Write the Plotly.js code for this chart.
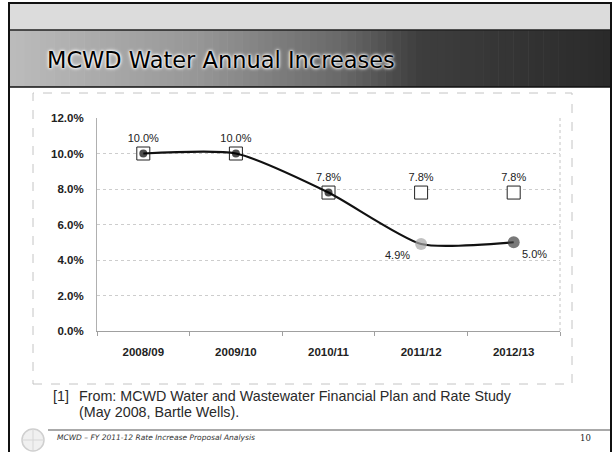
<!DOCTYPE html>
<html>
<head>
<meta charset="utf-8">
<script src="https://cdn.plot.ly/plotly-3.0.1.min.js"></script>
<style>
html,body{margin:0;padding:0;background:#fff;}
#chart{width:614px;height:452px;}
</style>
</head>
<body>
<div id="chart"></div>
<script>
// ---- data ----
var categories = ["2008/09", "2009/10", "2010/11", "2011/12", "2012/13"];
var plannedValues = [10.0, 10.0, 7.8, 7.8, 7.8];
var plannedLabels = ["10.0%", "10.0%", "7.8%", "7.8%", "7.8%"];
var actualValues = [10.0, 10.0, 7.8, 4.9, 5.0];
var actualLabels = ["", "", "", "4.9%", "5.0%"];
var yTickValues = [0, 2, 4, 6, 8, 10, 12];
var yTickLabels = ["0.0%", "2.0%", "4.0%", "6.0%", "8.0%", "10.0%", "12.0%"];
var slideTitle = "MCWD Water Annual Increases";
var footnoteMark = "[1]";
var footnoteLine1 = "From: MCWD Water and Wastewater Financial Plan and Rate Study";
var footnoteLine2 = "(May 2008, Bartle Wells).";
var footerText = "MCWD \u2013 FY 2011-12 Rate Increase Proposal Analysis";
var pageNumber = "10";

// ---- layout helpers (pixel -> paper) ----
var W = 614, H = 452;
function px(x){ return x / W; }
function py(y){ return 1 - y / H; }

var shapes = [];
// top light band
shapes.push({type:'rect', xref:'paper', yref:'paper', x0:px(9), x1:px(611), y0:py(3), y1:py(30),
  fillcolor:'#dcdcdc', line:{width:0}, layer:'below'});
// dark gradient band made of strips (decoration)
var bandStops = [[9, 188], [200, 150], [340, 105], [420, 62], [611, 42]];
function bandGrey(x){
  for (var k = 0; k < bandStops.length - 1; k++) {
    var a = bandStops[k], b = bandStops[k + 1];
    if (x <= b[0]) return a[1] + (b[1] - a[1]) * (x - a[0]) / (b[0] - a[0]);
  }
  return bandStops[bandStops.length - 1][1];
}
var nStrips = 80;
for (var i = 0; i < nStrips; i++) {
  var x0 = 9 + (611 - 9) * i / nStrips;
  var x1 = 9 + (611 - 9) * (i + 1) / nStrips + 0.6;
  var c = Math.round(bandGrey((x0 + x1) / 2));
  shapes.push({type:'rect', xref:'paper', yref:'paper', x0:px(x0), x1:px(Math.min(x1, 611)), y0:py(30), y1:py(87),
    fillcolor:'rgb(' + c + ',' + c + ',' + c + ')', line:{width:0}, layer:'below'});
}
shapes.push({type:'line', xref:'paper', yref:'paper', x0:px(9), x1:px(611), y0:py(30), y1:py(30),
  line:{color:'#222', width:1.5}});
shapes.push({type:'line', xref:'paper', yref:'paper', x0:px(9), x1:px(611), y0:py(87), y1:py(87),
  line:{color:'#111', width:1.5}});
// chart frame (dashed)
shapes.push({type:'rect', xref:'paper', yref:'paper', x0:px(33), x1:px(572), y0:py(384), y1:py(93),
  line:{color:'#c4c4c4', width:1, dash:'dash'}, layer:'below'});
// plot area right edge (dotted)
shapes.push({type:'line', xref:'x domain', yref:'y domain', x0:1, x1:1, y0:0, y1:1,
  line:{color:'#c4c4c4', width:1, dash:'dot'}, layer:'below'});
// footer line
shapes.push({type:'line', xref:'paper', yref:'paper', x0:px(48), x1:px(611), y0:py(430), y1:py(430),
  line:{color:'#555', width:1}});
// logo (faint globe)
shapes.push({type:'circle', xref:'paper', yref:'paper', x0:px(22), x1:px(44), y0:py(451), y1:py(429),
  line:{color:'#cfcfcf', width:1.5}, fillcolor:'rgba(225,225,225,0.5)'});
shapes.push({type:'line', xref:'paper', yref:'paper', x0:px(22), x1:px(44), y0:py(440), y1:py(440),
  line:{color:'#d6d6d6', width:1}});
shapes.push({type:'line', xref:'paper', yref:'paper', x0:px(33), x1:px(33), y0:py(429), y1:py(451),
  line:{color:'#d6d6d6', width:1}});
// slide border
shapes.push({type:'rect', xref:'paper', yref:'paper', x0:px(9), x1:px(611), y0:py(470), y1:py(3),
  line:{color:'#111', width:2}});

var labelFont = {family:'Liberation Sans, Arial', size:11, color:'#222'};
var noteFont = {family:'Liberation Sans, Arial', size:14.3, color:'#2a2a2a'};

var annotations = [
  {xref:'paper', yref:'paper', x:px(45), y:py(60), xanchor:'left', yanchor:'middle', showarrow:false,
   text:slideTitle, font:{family:'DejaVu Sans', size:22.5, color:'#000', shadow:'0 0 3px #fff, 0 0 2px #fff, 0 0 4px #fff'}},
  {xref:'paper', yref:'paper', x:px(51), y:py(396), xanchor:'left', yanchor:'middle', showarrow:false,
   text:footnoteMark, font:noteFont},
  {xref:'paper', yref:'paper', x:px(77), y:py(396), xanchor:'left', yanchor:'middle', showarrow:false,
   text:footnoteLine1, font:noteFont},
  {xref:'paper', yref:'paper', x:px(77), y:py(412), xanchor:'left', yanchor:'middle', showarrow:false,
   text:footnoteLine2, font:noteFont},
  {xref:'paper', yref:'paper', x:px(55), y:py(437), xanchor:'left', yanchor:'middle', showarrow:false,
   text:'<i>' + footerText + '</i>', font:{family:'DejaVu Sans', size:7.5, color:'#333'}},
  {xref:'paper', yref:'paper', x:px(585), y:py(438), xanchor:'center', yanchor:'middle', showarrow:false,
   text:pageNumber, font:{family:'DejaVu Serif', size:8.5, color:'#222'}},
  // labels for the last two actual points, anchored to their data coordinates
  {xref:'x', yref:'y', x:categories[3], y:actualValues[3], xshift:-24, yshift:-11, showarrow:false,
   text:actualLabels[3], font:labelFont},
  {xref:'x', yref:'y', x:categories[4], y:actualValues[4], xshift:21, yshift:-12, showarrow:false,
   text:actualLabels[4], font:labelFont}
];

var tracePlanned = {
  type:'scatter', x:categories, y:plannedValues, mode:'markers+text',
  marker:{symbol:'square', size:13, color:'#ffffff', line:{color:'#222', width:1}},
  text:plannedLabels, textposition:'top center',
  textfont:labelFont,
  cliponaxis:false, hoverinfo:'skip', showlegend:false
};
var traceActual = {
  type:'scatter', x:categories, y:actualValues, mode:'lines+markers',
  line:{color:'#111', width:2.2, shape:'spline', smoothing:0.6},
  marker:{symbol:'circle', size:[8, 8, 8, 12, 12], color:['#000', '#000', '#000', '#a6a6a6', '#404040'],
          line:{width:0}},
  cliponaxis:false, hoverinfo:'skip', showlegend:false
};

var layout = {
  width:W, height:H, margin:{l:0, r:0, t:0, b:0},
  paper_bgcolor:'#ffffff', plot_bgcolor:'#ffffff',
  showlegend:false,
  xaxis:{
    domain:[px(97), px(560)], type:'category', range:[-0.5, categories.length - 0.5],
    showline:true, linecolor:'#a0a0a0', linewidth:1,
    ticks:'outside', tickson:'boundaries', ticklen:4, tickcolor:'#a0a0a0',
    showgrid:false, zeroline:false,
    ticklabelstandoff:10,
    tickfont:{family:'Liberation Sans, Arial', size:11.5, color:'#222', weight:700}
  },
  yaxis:{
    domain:[py(331), py(118)], range:[0, 12],
    tickmode:'array', tickvals:yTickValues, ticktext:yTickLabels,
    showline:true, linecolor:'#b0b0b0', linewidth:1,
    showgrid:true, gridcolor:'#cdcdcd', griddash:'dot', gridwidth:1,
    zeroline:false, ticks:'',
    ticklabelstandoff:10,
    tickfont:{family:'Liberation Sans, Arial', size:11.5, color:'#222', weight:700}
  },
  shapes:shapes,
  annotations:annotations
};

Plotly.newPlot('chart', [tracePlanned, traceActual], layout, {staticPlot:true, displayModeBar:false});
</script>
</body>
</html>
